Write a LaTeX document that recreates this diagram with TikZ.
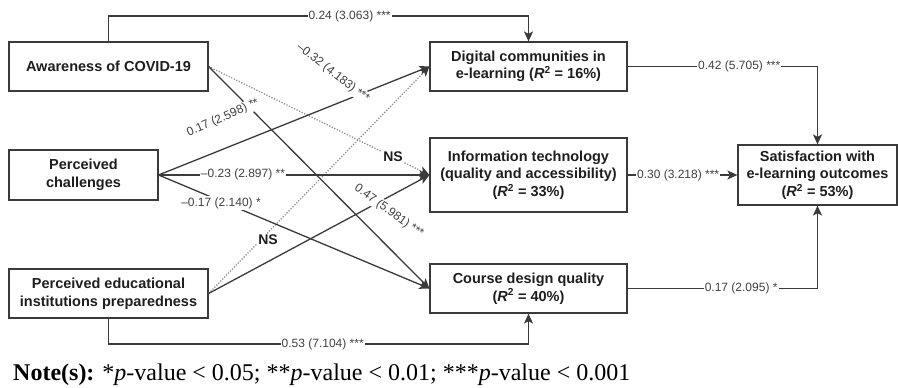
\documentclass[tikz,border=0pt]{standalone}
\usepackage{fontspec}
\setmainfont{Liberation Sans}
\newfontfamily\notefont{Liberation Serif}
\usetikzlibrary{arrows.meta}
\definecolor{ln}{HTML}{3A3A3A}
\definecolor{dt}{HTML}{8C8C8C}
\definecolor{tx}{HTML}{1E1E1E}
\newcommand{\Rsq}{\textit{R}\textsuperscript{2}}
\begin{document}
\begin{tikzpicture}[x=1pt,y=-1pt,
  box/.style={draw=ln, line width=1.2pt, align=center, inner sep=0pt, text=tx,
    font=\fontsize{14.5}{17.5}\selectfont\bfseries},
  conn/.style={draw=ln, line width=1.3pt, -{Stealth[length=10pt,width=9pt,inset=2.5pt]}},
  dotconn/.style={draw=dt, line width=1.3pt, dash pattern=on 1.2pt off 1.6pt,
    -{Stealth[length=10pt,width=9pt,inset=2.5pt,color=ln]}},
  lab/.style={fill=white, inner sep=1pt, text=tx!85, font=\fontsize{12}{14}\selectfont},
  ns/.style={fill=white, inner sep=1pt, text=tx, font=\fontsize{14}{16}\selectfont\bfseries}]
\useasboundingbox (0,0) rectangle (898,388);
% boxes
\node[box, minimum width=199pt, minimum height=49pt] (aw) at (108.5,66.5) {Awareness of COVID-19};
\node[box, minimum width=149pt, minimum height=50pt] (ch) at (83.5,175) {Perceived\\challenges};
\node[box, minimum width=199pt, minimum height=49pt] (ed) at (108.5,293.5) {Perceived educational\\institutions preparedness};
\node[box, minimum width=197pt, minimum height=49pt] (dig) at (528.5,66.5) {Digital communities in\\e-learning (\Rsq{} = 16\%)};
\node[box, minimum width=197pt, minimum height=74pt] (it) at (528.5,175) {Information technology\\(quality and accessibility)\\(\Rsq{} = 33\%)};
\node[box, minimum width=197pt, minimum height=49pt] (cd) at (528.5,288.5) {Course design quality\\(\Rsq{} = 40\%)};
\node[box, minimum width=159pt, minimum height=60pt] (sat) at (817.5,175) {Satisfaction with\\e-learning outcomes\\(\Rsq{} = 53\%)};
\coordinate (top) at (0,16);
\coordinate (bot) at (0,344);
% outer connectors
\draw[conn] (aw.north) -- (aw.north |- top) -- node[lab,pos=0.574]{0.24 (3.063) ***} (dig.north |- top) -- (dig.north);
\draw[conn] (ed.south) -- (ed.south |- bot) -- node[lab,pos=0.51]{0.53 (7.104) ***} (cd.south |- bot) -- (cd.south);
% diagonals
\draw[dotconn] (aw.east) -- (it.west);
\draw[dotconn] (ed.east) -- (dig.west);
\draw[conn] (ch.east) -- (dig.west);
\draw[conn] (ch.east) -- (it.west);
\draw[conn] (ch.east) -- (cd.west);
\draw[conn] (aw.east) -- (cd.west);
\draw[conn] (ed.east) -- (it.west);
% diagonal labels
\node[lab, rotate=-38] (l1) at (333,73) {\textendash0.32 (4.183) ***};
\node[lab, rotate=24] (l2) at (223,118) {0.17 (2.598) **};
\node[lab] (l3) at (243,174) {\textendash0.23 (2.897) **};
\node[lab] (l4) at (221,203) {\textendash0.17 (2.140) *};
\node[lab, rotate=-36] (l5) at (389,211) {0.47 (5.981) ***};
\node[ns] (ns1) at (393,157) {NS};
\node[ns] (ns2) at (268,240) {NS};
% to satisfaction
\draw[conn] (dig.east) -- node[lab,pos=0.588]{0.42 (5.705) ***} (dig.east -| sat.north) -- (sat.north);
\draw[conn] (it.east) -- node[lab,pos=0.46]{0.30 (3.218) ***} (sat.west);
\draw[conn] (cd.east) -- node[lab,pos=0.598]{0.17 (2.095) *} (cd.east -| sat.south) -- (sat.south);
% note
\node[anchor=base west, inner sep=0pt, text=black, font=\notefont\fontsize{24}{28}\selectfont] (note) at (13,380)
  {\textbf{Note(s):} *\textit{p}-value < 0.05; **\textit{p}-value < 0.01; ***\textit{p}-value < 0.001};
\end{tikzpicture}
\end{document}
